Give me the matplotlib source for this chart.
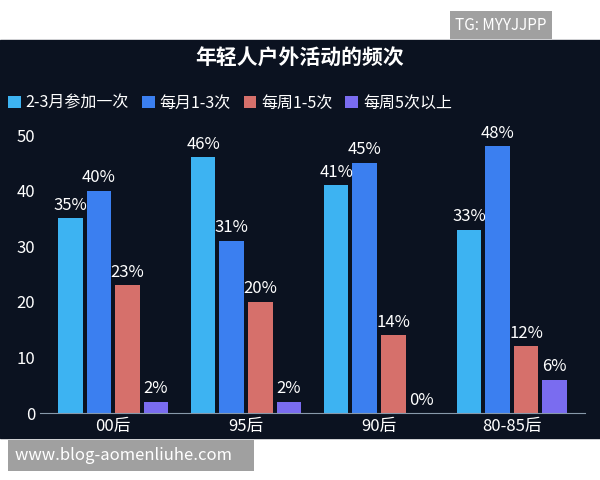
import matplotlib
matplotlib.use("Agg")
import matplotlib.pyplot as plt
from matplotlib.patches import Rectangle
import numpy as np

plt.rcParams['font.family'] = ['Noto Sans CJK SC', 'DejaVu Sans']

categories = ['00后', '95后', '90后', '80-85后']
series_names = ['2-3月参加一次', '每月1-3次', '每周1-5次', '每周5次以上']
values = [
    [35, 46, 41, 33],
    [40, 31, 45, 48],
    [23, 20, 14, 12],
    [2, 2, 0, 6],
]
colors = ['#3db3f2', '#3b7ff0', '#d6706b', '#7a6cf0']
yticks = [0, 10, 20, 30, 40, 50]

fig = plt.figure(figsize=(6, 4.8), dpi=100)
fig.patch.set_facecolor('white')
fig.add_artist(Rectangle((0, 42/480), 1, 398/480, transform=fig.transFigure,
                         color='#0b1220', zorder=0))
ax = fig.add_axes([40/600, (480-413)/480, 545/600, 278/480])
ax.set_facecolor('#0b1220')
x = np.arange(len(categories))
w = 0.185
for i, (vals, c) in enumerate(zip(values, colors)):
    pos = x + (i - 1.5) * (w + 0.03)
    ax.bar(pos, vals, w, color=c, label=series_names[i])
    for p, v in zip(pos, vals):
        ax.text(p, v + 0.8, f'{v}%', ha='center', va='bottom', color='white', fontsize=12)
ax.set_ylim(0, 50)
ax.set_xlim(-0.55, 3.55)
ax.set_yticks(yticks)
ax.set_xticks(x)
ax.set_xticklabels(categories)
ax.tick_params(colors='white', labelsize=12, length=0)
for s in ['top', 'right', 'left']:
    ax.spines[s].set_visible(False)
ax.spines['bottom'].set_color('#8899aa')
leg = ax.legend(loc='lower left', bbox_to_anchor=(-0.07, 1.06), ncol=4, frameon=False,
                labelcolor='white', fontsize=11.5, handlelength=0.8, handleheight=0.8,
                columnspacing=0.8, handletextpad=0.3, borderaxespad=0)
fig.text(0.5, 1 - 58/480, '年轻人户外活动的频次', ha='center', va='center',
         color='white', fontsize=15, fontweight='bold')
fig.text(455/600, 1 - 25/480, 'TG: MYYJJPP', ha='left', va='center', color='white',
         fontsize=11, bbox=dict(facecolor='#a0a0a0', edgecolor='none', pad=4))
fig.text(15/600, 1 - 455/480, 'www.blog-aomenliuhe.com    ', ha='left', va='center',
         color='white', fontsize=12, bbox=dict(facecolor='#a0a0a0', edgecolor='none', pad=5))
fig.savefig('out.png', dpi=100, facecolor=fig.get_facecolor())
